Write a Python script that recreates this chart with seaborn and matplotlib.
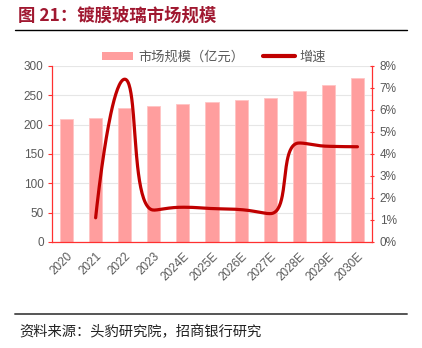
import numpy as np
import pandas as pd
import matplotlib
matplotlib.use("Agg")
import matplotlib.pyplot as plt
import seaborn as sns
from matplotlib.lines import Line2D
from matplotlib.patches import Patch

years = ["2020", "2021", "2022", "2023", "2024E", "2025E", "2026E", "2027E", "2028E", "2029E", "2030E"]
market_size = [210, 212, 228, 232, 235, 239, 242, 246, 257, 268, 279]
growth_pct = [np.nan, 1.1, 7.4, 1.45, 1.58, 1.52, 1.47, 1.29, 4.5, 4.35, 4.33]

title_text = "图 21：镀膜玻璃市场规模"
legend_bar = "市场规模（亿元）"
legend_line = "增速"
source_text = "资料来源：头豹研究院，招商银行研究"

sns.set_style("white")
plt.rcParams["font.family"] = ["Noto Sans CJK SC", "DejaVu Sans"]

W, H = 422, 348
fig = plt.figure(figsize=(W / 100, H / 100), dpi=100)
ax = fig.add_axes([52 / W, 1 - 242 / H, (372 - 52) / W, (242 - 66) / H])

bar_color = "#FF9E9E"
line_color = "#C00000"
axis_red = "#FF3030"
tick_gray = "#595959"
num_font = ["Liberation Sans", "DejaVu Sans"]

df = pd.DataFrame({"year": years, "size": market_size})
sns.barplot(data=df, x="year", y="size", ax=ax, color=bar_color, width=0.45,
            saturation=1, edgecolor="#FFC4C4", linewidth=0.6, zorder=2)
ax.set_xlim(-0.5, len(years) - 0.5)
ax.set_ylim(0, 300)
ax.set_yticks(np.arange(0, 301, 50))
ax.set_xlabel("")
ax.set_ylabel("")
ax.yaxis.grid(True, color="#E6E6E6", linewidth=0.8, zorder=0)
ax.set_axisbelow(True)

ax.set_xticks(np.arange(len(years)))
ax.set_xticklabels(years, rotation=45, ha="right", rotation_mode="anchor",
                   fontsize=8.5, color=tick_gray, family=num_font)
ax.tick_params(axis="x", length=0, pad=6)
ax.set_xticks(np.arange(-0.5, len(years)), minor=True)
ax.tick_params(axis="x", which="minor", length=4, color=axis_red, width=0.8, direction="out")
ax.tick_params(axis="y", length=3, color=axis_red, width=0.8, direction="out",
               labelsize=8.5, labelcolor=tick_gray, pad=3)
for lb in ax.get_yticklabels():
    lb.set_family(num_font)
for s in ["top", "right"]:
    ax.spines[s].set_visible(False)
for s in ["left", "bottom"]:
    ax.spines[s].set_color(axis_red)
    ax.spines[s].set_linewidth(0.9)

ax2 = ax.twinx()
ax2.set_ylim(0, 8)
ax2.set_yticks(np.arange(0, 9, 1))
ax2.set_yticklabels([f"{v}%" for v in range(9)], family=num_font)
ax2.tick_params(axis="y", length=3, color=axis_red, width=0.8, direction="inout",
                labelsize=8.5, labelcolor=tick_gray, pad=4)
for s in ["top", "left", "bottom"]:
    ax2.spines[s].set_visible(False)
ax2.spines["right"].set_color(axis_red)
ax2.spines["right"].set_linewidth(0.9)

# smoothed line (monotone-clamped bezier, computed in pixel space)
g = np.array(growth_pct, dtype=float)
idx = np.where(~np.isnan(g))[0]
xs = idx.astype(float)
ys = g[idx]
sx = (372 - 52) / len(years)
sy = (242 - 66) / 8.0
px, py = xs * sx, ys * sy
n = len(px)
smooth = 0.5
cp_in = [None] * n
cp_out = [None] * n
cp_out[0] = (px[0], py[0])
cp_in[n - 1] = (px[n - 1], py[n - 1])
for i in range(1, n - 1):
    x, y = px[i], py[i]
    x0, y0 = px[i - 1], py[i - 1]
    x1, y1 = px[i + 1], py[i + 1]
    vx, vy = x1 - x0, y1 - y0
    lp = np.hypot(x - x0, y - y0)
    ln = np.hypot(x1 - x, y1 - y)
    r = ln / (ln + lp)
    ncx = x + vx * smooth * r
    ncy = y + vy * smooth * r
    ncx = min(max(ncx, min(x1, x)), max(x1, x))
    ncy = min(max(ncy, min(y1, y)), max(y1, y))
    vx, vy = ncx - x, ncy - y
    c1x = x - vx * lp / ln
    c1y = y - vy * lp / ln
    c1x = min(max(c1x, min(x0, x)), max(x0, x))
    c1y = min(max(c1y, min(y0, y)), max(y0, y))
    vx, vy = x - c1x, y - c1y
    ncx = x + vx * ln / lp
    ncy = y + vy * ln / lp
    cp_in[i] = (c1x, c1y)
    cp_out[i] = (ncx, ncy)
t = np.linspace(0, 1, 50)[:, None]
curve = []
for i in range(n - 1):
    P0 = np.array([px[i], py[i]])
    P1 = np.array(cp_out[i])
    P2 = np.array(cp_in[i + 1])
    P3 = np.array([px[i + 1], py[i + 1]])
    seg = ((1 - t) ** 3) * P0 + 3 * ((1 - t) ** 2) * t * P1 + 3 * (1 - t) * t ** 2 * P2 + t ** 3 * P3
    curve.append(seg if i == 0 else seg[1:])
curve = np.vstack(curve)
ax2.plot(curve[:, 0] / sx, curve[:, 1] / sy, color=line_color, linewidth=2.3,
         solid_capstyle="round", zorder=3)

handles = [Patch(facecolor=bar_color, edgecolor="none", label=legend_bar),
           Line2D([0], [0], color=line_color, linewidth=3, label=legend_line)]
fig.legend(handles=handles, loc="center", bbox_to_anchor=(214 / W, 1 - 57 / H), ncol=2,
           frameon=False, fontsize=9.5, handlelength=2.4, handleheight=0.55,
           columnspacing=1.4, handletextpad=0.4, labelcolor=tick_gray)

fig.text(18 / W, 1 - 16 / H, title_text, fontsize=12.5, fontweight="bold",
         color="#A01830", va="center", ha="left")
fig.add_artist(Line2D([15 / W, 407 / W], [1 - 30 / H, 1 - 30 / H], color="black", linewidth=1.0))
fig.add_artist(Line2D([15 / W, 407 / W], [1 - 314 / H, 1 - 314 / H], color="#555555", linewidth=1.4))
fig.text(19 / W, 1 - 332 / H, source_text, fontsize=10.3, color="#222222", va="center", ha="left")

fig.savefig("out.png", dpi=100)
